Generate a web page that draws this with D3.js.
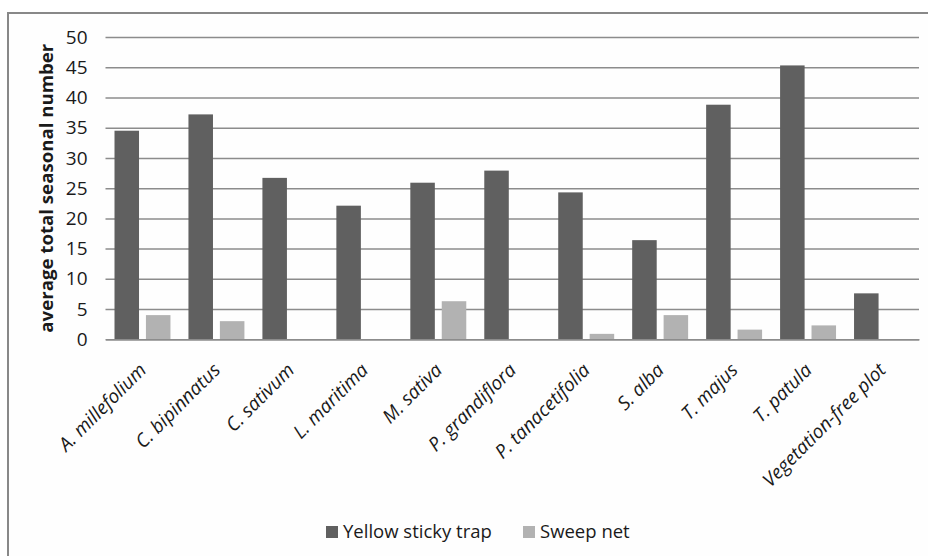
<!DOCTYPE html>
<html>
<head>
<meta charset="utf-8">
<script src="https://cdn.jsdelivr.net/npm/d3@7"></script>
<style>
  html, body { margin: 0; padding: 0; background: #fff; }
  svg { display: block; }
  text { font-family: "Open Sans", sans-serif; fill: #1a1a1a; }
</style>
</head>
<body>
<svg id="chart" width="928" height="556"></svg>
<script>
const categories = ["A. millefolium", "C. bipinnatus", "C. sativum", "L. maritima", "M. sativa",
  "P. grandiflora", "P. tanacetifolia", "S. alba", "T. majus", "T. patula", "Vegetation-free plot"];
const seriesNames = ["Yellow sticky trap", "Sweep net"];
const yellowSticky = [34.5, 37.2, 26.7, 22.1, 25.9, 27.9, 24.3, 16.4, 38.8, 45.3, 7.6];
const sweepNet = [4.0, 3.0, 0, 0, 6.3, 0, 0.9, 4.0, 1.6, 2.3, 0];
const yTicks = [0, 5, 10, 15, 20, 25, 30, 35, 40, 45, 50];
const colors = ["#606060", "#b2b2b2"];
const yTitle = "average total seasonal number";

const svg = d3.select("#chart");
const plot = { left: 105.5, right: 919, top: 37, bottom: 339.3 };

// chart border (cropped at right and bottom like the reference)
svg.append("rect").attr("x", 8).attr("y", 13).attr("width", 940).attr("height", 580)
  .attr("fill", "#fefefe").attr("stroke", "#888").attr("stroke-width", 2);

const x0 = d3.scaleBand().domain(categories).range([plot.left, plot.right]).padding(0);
const x1 = d3.scaleBand().domain(seriesNames).range([9, x0.bandwidth() - 9]).paddingInner(0.22);
const y = d3.scaleLinear().domain([0, 50]).range([plot.bottom, plot.top]);

// y axis with gridlines
const yAxis = svg.append("g").attr("transform", `translate(${plot.left},0)`)
  .call(d3.axisLeft(y).tickValues(yTicks).tickSize(-(plot.right - plot.left)).tickPadding(18));
yAxis.select(".domain").remove();
yAxis.selectAll(".tick line").attr("stroke", "#8c8c8c").attr("stroke-width", 1.5);
yAxis.selectAll(".tick text").attr("font-size", 19).attr("font-family", "Open Sans").attr("fill", "#1a1a1a");

// bars
const rows = categories.map((c, i) => ({ cat: c, vals: [yellowSticky[i], sweepNet[i]] }));
const groups = svg.append("g").selectAll("g").data(rows).join("g")
  .attr("transform", d => `translate(${x0(d.cat)},0)`);
groups.selectAll("rect").data(d => d.vals.map((v, j) => ({ s: seriesNames[j], v, j })))
  .join("rect")
  .filter(d => d.v > 0)
  .attr("x", d => x1(d.s))
  .attr("width", x1.bandwidth())
  .attr("y", d => y(d.v))
  .attr("height", d => y(0) - y(d.v))
  .attr("fill", d => colors[d.j]);

// x axis
const xAxis = svg.append("g").attr("transform", `translate(0,${plot.bottom})`)
  .call(d3.axisBottom(x0).tickSize(0).tickSizeOuter(0).tickPadding(0));
xAxis.select(".domain").attr("stroke", "#8c8c8c").attr("stroke-width", 1.5);
xAxis.selectAll(".tick text")
  .attr("font-size", 19).attr("font-style", "italic").attr("font-family", "Open Sans")
  .attr("fill", "#1a1a1a")
  .attr("text-anchor", "end")
  .attr("dy", null)
  .attr("transform", "translate(5,32) rotate(-45)");

// y title
svg.append("text")
  .attr("transform", `translate(53,${(plot.top + plot.bottom) / 2}) rotate(-90)`)
  .attr("text-anchor", "middle")
  .attr("font-size", 17).attr("font-weight", "bold")
  .attr("textLength", 289).attr("lengthAdjust", "spacingAndGlyphs")
  .text(yTitle);

// legend
const legend = svg.append("g");
const legendX = [326, 523];
seriesNames.forEach((s, i) => {
  legend.append("rect").attr("x", legendX[i]).attr("y", 526).attr("width", 12).attr("height", 12)
    .attr("fill", colors[i]);
  legend.append("text").attr("x", legendX[i] + 17).attr("y", 538)
    .attr("font-size", 18.5).text(s);
});
</script>
</body>
</html>
